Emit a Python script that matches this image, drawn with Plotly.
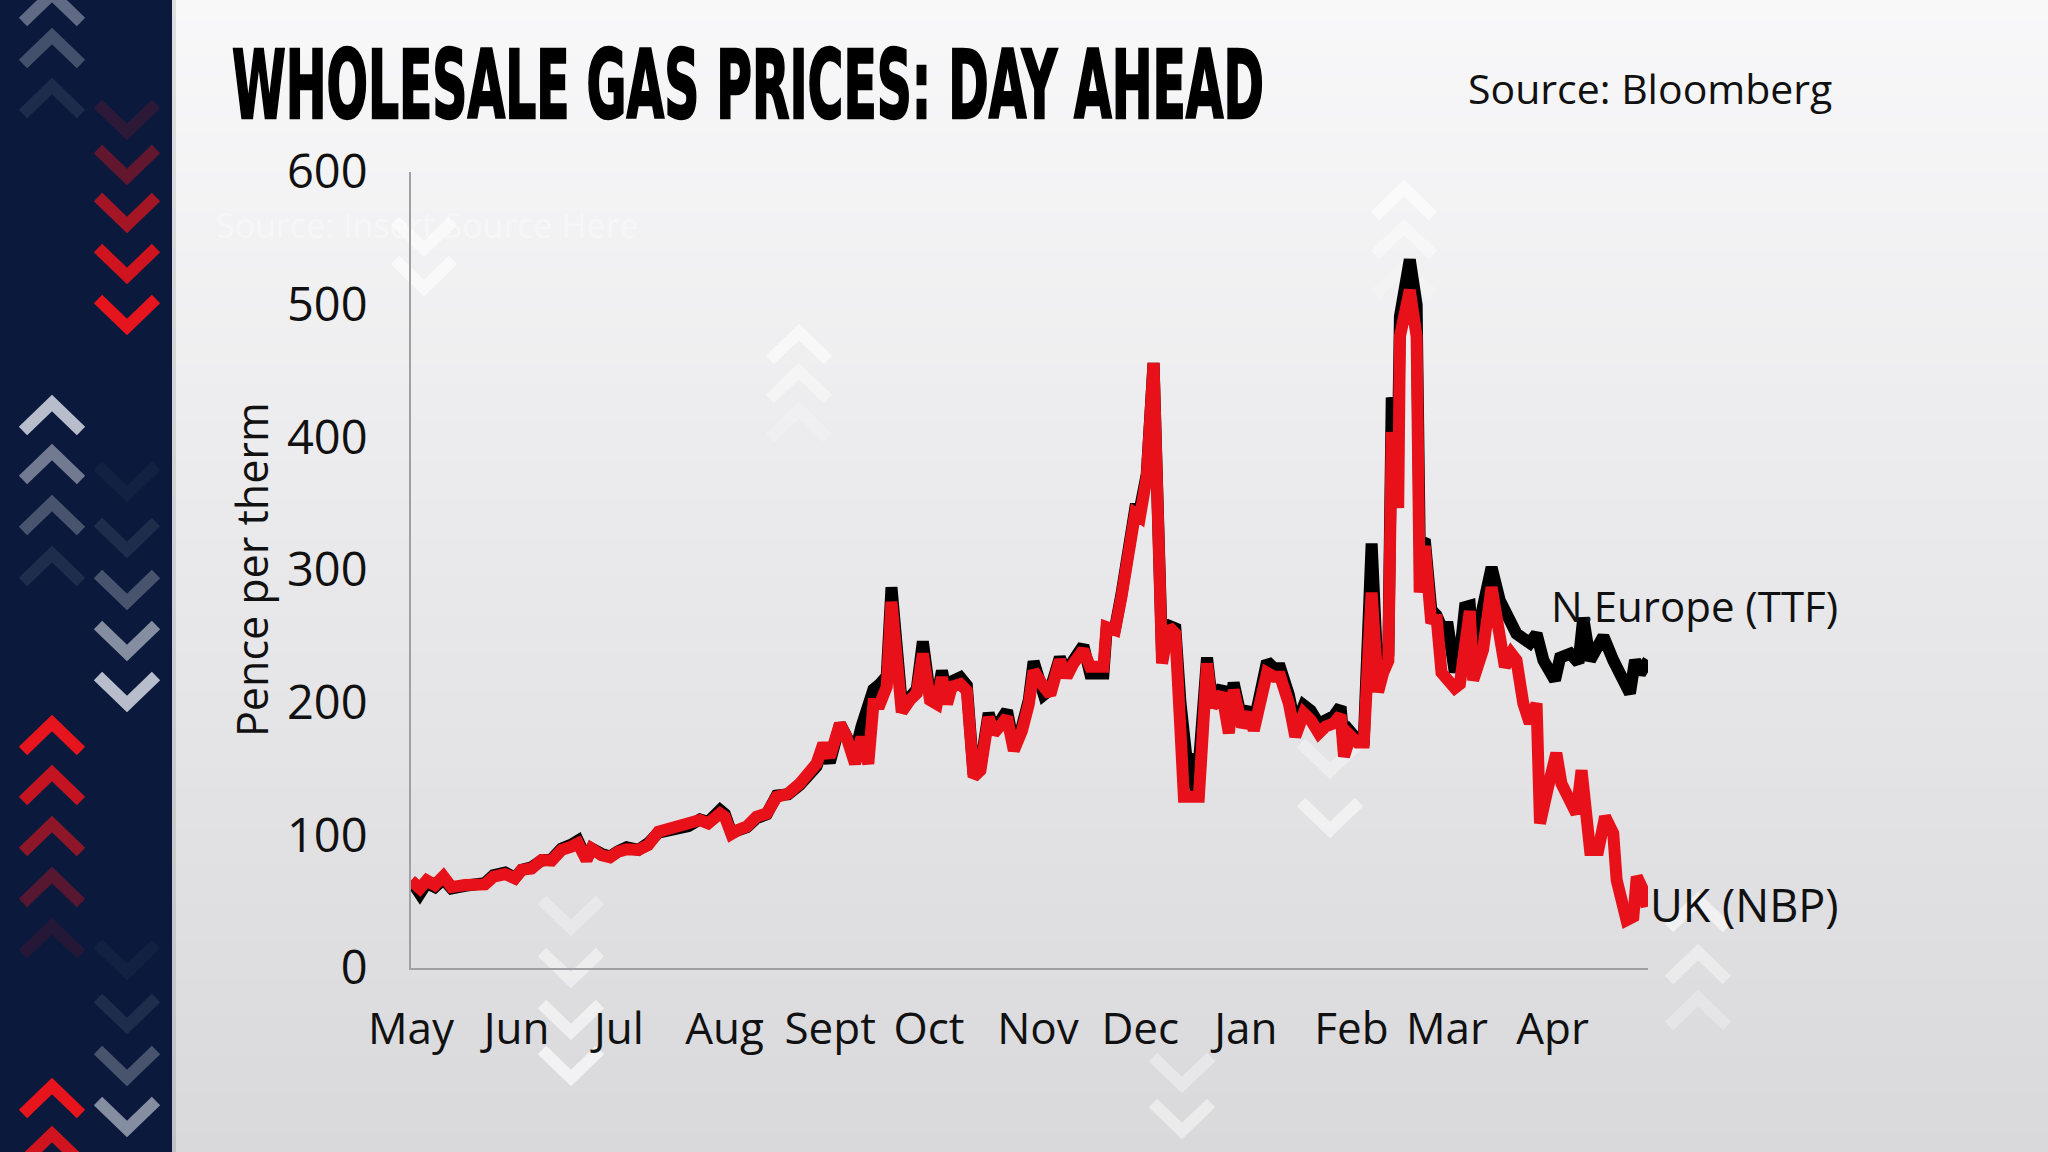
import pandas as pd
import plotly.graph_objects as go

# ---------------- data ----------------
start_date = "2021-05-01"

nbp_day = [0, 2.6, 4.6, 7, 9.5, 11.9, 15.8, 21.7, 24.2, 27.6, 30.5, 32.5, 35.4, 38.3, 41.3, 44.2, 47.1, 49,
           51.5, 53, 55.9, 58.4, 60.8, 63.3, 66.7, 69.6, 72.6, 76.5, 81.4, 84.8, 87.2, 90.7, 92.1, 94, 96,
           98.5, 101.4, 104.4, 107.3, 110.7, 114.1, 117.1, 119, 121, 122.9, 125.9, 127.8, 130.3, 132.2,
           134.2, 135.7, 137.6, 139.6, 141, 142.5, 144, 146.4, 148.4, 150.2, 152.3, 154.3, 155.8, 157.3,
           158.7, 161.2, 163.1, 165.1, 167.1, 169.5, 171, 173.4, 174.9, 176.9, 179.3, 181.3, 182.7, 185.7,
           187.6, 190.4, 192.4, 194.4, 197.3, 199.3, 203.2, 204.1, 206.6, 208.5, 210.5, 212.5, 213.9, 215.9,
           217.9, 220.4, 222.4, 224.3, 225.8, 226.8, 231.2, 233.6, 235.1, 238, 240, 241.4, 243.9, 246.3,
           247.3, 249.3, 251.2, 253.2, 255.1, 257.6, 259.5, 262, 264, 266.4, 268.4, 270.8, 272.8, 273.8,
           275.7, 277.7, 279.6, 281.9, 283.8, 285.3, 286.8, 287.8, 289.7, 290.2, 293.1, 295.1, 296, 297.5,
           299.4, 300.9, 302.4, 304.3, 306.3, 307.8, 309.3, 310.7, 311.7, 314.6, 317.1, 319.3, 321, 322.9,
           324.4, 326.4, 328.3, 330.3, 331.3, 333.7, 336.1, 337.6, 339.6, 342, 343.5, 345, 346, 348.4,
           350.4, 352.8, 353.8, 356.7, 358.7, 359.7, 361.6, 362.6]
nbp_val = [66, 60, 66, 62.5, 69, 61, 62.5, 63, 68.8, 70.8, 67.5, 74, 75, 81.4, 81, 89, 91.5, 94,
           81.4, 90, 85, 83.5, 87.7, 89.5, 89, 92.7, 102.8, 105, 107.8, 111.5, 109, 116.5, 114, 101, 104,
           106.5, 114, 116.5, 129, 131.5, 139, 146.6, 154, 169, 159, 184, 174, 154, 174,
           154, 199, 199, 212, 276, 234.5, 193, 202, 207, 237, 202, 199, 219, 199,
           212, 214, 209, 144, 149, 189, 177, 184, 189, 164, 179, 199, 224, 212,
           206, 232, 219.5, 229.6, 239.6, 227, 227, 257, 254.7, 280, 310, 342.6, 340, 370,
           456, 229.6, 257, 252, 179, 129, 129, 229.6, 197, 207, 177, 209.6, 182, 192,
           179, 202, 222.5, 219.5, 219.5, 199.5, 174.5, 192, 187, 177, 182, 184.5, 190.7, 159.5,
           175, 170, 170, 283, 208, 222.7, 231.5, 404, 346.7, 476, 511, 476, 283, 318,
           260, 266, 222.7, 217, 211, 214, 246, 269, 217, 240, 287, 249, 227, 237,
           232, 199.5, 184.5, 199.5, 109, 136.6, 162, 139, 129, 116.5, 149, 116.5, 89, 89,
           114, 101.5, 66.3, 36, 38.7, 68.8, 58.7, 46]

ttf_day = [0, 2.6, 4.6, 7, 9.5, 11.9, 15.8, 21.7, 24.2, 27.6, 30.5, 32.5, 35.4, 38.3, 41.3, 44.2, 47.1, 49,
           51.5, 53, 55.9, 58.4, 60.8, 63.3, 66.7, 69.6, 72.6, 76.5, 81.4, 84.8, 87.2, 90.7, 92.1, 94, 96,
           98.5, 101.4, 104.4, 107.3, 110.7, 114.1, 117.1, 119, 121, 122.9, 125.9, 127.8, 130.3, 132.2,
           134.2, 135.7, 137.6, 139.6, 141, 142.5, 144, 146.4, 148.4, 150.2, 152.3, 154.3, 155.8, 157.3,
           158.7, 161.2, 163.1, 165.1, 167.1, 169.5, 171, 173.4, 174.9, 176.9, 179.3, 181.3, 182.7, 185.7,
           187.6, 190.4, 192.4, 194.4, 197.3, 199.3, 203.2, 204.1, 206.6, 208.5, 210.5, 212.5, 213.9, 215.9,
           217.9, 220.4, 222.4, 224.3, 225.8, 227.5, 228.8, 230.5, 233.6, 235.1, 238, 240, 241.4, 243.9,
           246.3, 247.3, 249.3, 251.2, 253.2, 255.1, 257.6, 259.5, 262, 264, 266.4, 268.4, 270.8, 272.8,
           273.8, 275.7, 277.7, 279.6, 281.9, 283.8, 285.3, 286.8, 287.8, 289.7, 290.2, 293.1, 295.1, 296,
           297.5, 299.4, 300.9, 302.4, 304.3, 306.3, 307.8, 309.3, 310.7, 311.7, 313.7, 317.1, 319.5, 322.4,
           324.4, 328.3, 330.3, 332.3, 335.7, 337.2, 340.2, 342.6, 344, 346, 349.9, 352.8, 357.7, 359.2,
           360.7, 363.1]
ttf_val = [66, 56, 64, 61, 67, 60, 62, 64, 70, 72, 68, 74, 76, 81, 82, 90, 93, 96,
           82, 90, 86, 84, 88, 91, 89, 94, 102, 104, 107, 112, 110, 119, 116, 102, 104,
           106, 113, 116, 130, 131, 138, 145, 152, 166, 155, 184, 176, 162, 182,
           196, 210, 214, 220, 287, 240, 200, 204, 210, 246, 206, 203, 224, 206,
           216, 219, 213, 146, 152, 192, 180, 188, 194, 168, 182, 202, 231, 206,
           210, 234, 222, 232, 243, 222, 222, 254, 256, 282, 312, 346, 346, 372,
           456, 236, 258, 256, 200, 160, 158, 130, 234, 200, 212, 182, 215, 186,
           196, 184, 208, 231, 226, 226, 206, 182, 198, 194, 184, 188, 190, 197,
           166, 178, 172, 172, 320, 214, 226, 236, 430, 407, 491, 534, 500, 320,
           323, 270, 266, 257, 257, 223, 236, 272, 273, 237, 262, 302, 277, 262,
           252, 245, 252, 232, 217, 234, 237, 230, 264, 232, 250, 232, 207, 232,
           222, 232]

month_ticks = ["2021-05-01", "2021-06-01", "2021-07-01", "2021-08-01", "2021-09-01", "2021-09-30",
               "2021-11-01", "2021-12-01", "2022-01-01", "2022-02-01", "2022-03-01", "2022-04-01"]
month_labels = ["May", "Jun", "Jul", "Aug", "Sept", "Oct", "Nov", "Dec", "Jan", "Feb", "Mar", "Apr"]
y_ticks = [0, 100, 200, 300, 400, 500, 600]

base = pd.Timestamp(start_date)
nbp_x = base + pd.to_timedelta(nbp_day, unit="D")
ttf_x = base + pd.to_timedelta(ttf_day, unit="D")

# ---------------- geometry helpers ----------------
W, H = 2048, 1152
L, R, T, B = 411, 1648, 172, 968


def px(x):
    return (x - L) / (R - L)


def py(y):
    return (B - y) / (B - T)


shapes = []

# background gradient
top_c = (248, 248, 249)
bot_c = (217, 217, 220)
nb = 60
for i in range(nb):
    f = i / (nb - 1)
    c = tuple(int(round(top_c[k] + (bot_c[k] - top_c[k]) * f)) for k in range(3))
    y0 = H * i / nb
    y1 = H * (i + 1) / nb + 1
    shapes.append(dict(type="rect", xref="paper", yref="paper", x0=px(0), x1=px(W),
                       y0=py(y1), y1=py(y0), line=dict(width=0),
                       fillcolor="rgb(%d,%d,%d)" % c, layer="below"))

# navy side panel
shapes.append(dict(type="rect", xref="paper", yref="paper", x0=px(0), x1=px(172),
                   y0=py(H), y1=py(0), line=dict(width=0), fillcolor="#0b1a3c", layer="below"))
shapes.append(dict(type="rect", xref="paper", yref="paper", x0=px(172), x1=px(176),
                   y0=py(H), y1=py(0), line=dict(width=0), fillcolor="rgba(0,0,0,0.10)", layer="below"))


def chevron(cx, cy, up, color, width=12, hw=29, hh=14):
    if up:
        pts = [(cx - hw, cy + hh), (cx, cy - hh), (cx + hw, cy + hh)]
    else:
        pts = [(cx - hw, cy - hh), (cx, cy + hh), (cx + hw, cy - hh)]
    path = "M %f %f L %f %f L %f %f" % (px(pts[0][0]), py(pts[0][1]), px(pts[1][0]), py(pts[1][1]),
                                         px(pts[2][0]), py(pts[2][1]))
    shapes.append(dict(type="path", xref="paper", yref="paper", path=path,
                       line=dict(color=color, width=width), layer="below"))


# side-panel chevrons
for cy, a in [(8, 0.45), (50, 0.3), (100, 0.1)]:
    chevron(52, cy, True, "rgba(200,205,220,%f)" % a)
for cy, a in [(118, 0.15), (163, 0.4), (211, 0.7), (262, 0.9), (313, 1.0)]:
    chevron(127, cy, False, "rgba(230,20,28,%f)" % a)
for cy, a in [(417, 0.85), (466, 0.5), (517, 0.3), (568, 0.1)]:
    chevron(52, cy, True, "rgba(215,218,228,%f)" % a)
for cy, a in [(480, 0.04), (536, 0.1), (588, 0.3), (639, 0.6), (690, 0.85)]:
    chevron(127, cy, False, "rgba(215,218,228,%f)" % a)
for cy, a in [(737, 1.0), (787, 0.85), (838, 0.6), (889, 0.35), (940, 0.12)]:
    chevron(52, cy, True, "rgba(230,20,28,%f)" % a)
for cy, a in [(958, 0.04), (1012, 0.1), (1064, 0.3), (1115, 0.6)]:
    chevron(127, cy, False, "rgba(215,218,228,%f)" % a)
for cy, a in [(1100, 1.0), (1148, 0.9)]:
    chevron(52, cy, True, "rgba(230,20,28,%f)" % a)

# faint watermark chevrons in the chart area
wm = "rgba(255,255,255,%f)"
for cy, a in [(346, 0.55), (385, 0.4), (424, 0.2)]:
    chevron(799, cy, True, wm % a, width=12)
for cy, a in [(202, 0.6), (241, 0.4), (280, 0.2)]:
    chevron(1404, cy, True, wm % a, width=12)
for cy, a in [(235, 0.5), (274, 0.6)]:
    chevron(424, cy, False, wm % a, width=12)
for cy, a in [(914, 0.3), (966, 0.45), (1018, 0.55), (1064, 0.65)]:
    chevron(571, cy, False, wm % a, width=12)
for cy, a in [(757, 0.35), (816, 0.5)]:
    chevron(1330, cy, False, wm % a, width=12)
for cy, a in [(914, 0.55), (966, 0.4), (1012, 0.25)]:
    chevron(1698, cy, True, wm % a, width=12)
for cy, a in [(1071, 0.35), (1117, 0.45)]:
    chevron(1182, cy, False, wm % a, width=12)

# ---------------- figure ----------------
fig = go.Figure()
fig.add_trace(go.Scatter(x=ttf_x, y=ttf_val, mode="lines", name="N.Europe (TTF)",
                         line=dict(color="#000000", width=12), hoverinfo="skip"))
fig.add_trace(go.Scatter(x=nbp_x, y=nbp_val, mode="lines", name="UK (NBP)",
                         line=dict(color="#e8111a", width=12), hoverinfo="skip"))

font_main = "Open Sans, Noto Sans, sans-serif"

annotations = [
    dict(text="<b>WHOLESALE GAS PRICES: DAY AHEAD</b>", x=px(230), y=py(86), xanchor="left",
         yanchor="middle", showarrow=False, xref="paper", yref="paper",
         font=dict(family="DejaVu Sans, sans-serif", size=94, color="#000000")),
    dict(text="Source: Bloomberg", x=px(1834), y=py(88), xanchor="right", yanchor="middle",
         showarrow=False, xref="paper", yref="paper",
         font=dict(family=font_main, size=41, color="#111111")),
    dict(text="Source: Insert Source Here", x=px(214), y=py(225), xanchor="left", yanchor="middle",
         showarrow=False, xref="paper", yref="paper",
         font=dict(family=font_main, size=34, color="rgba(255,255,255,0.35)")),
    dict(text="Pence per therm", x=px(251), y=py(570), xanchor="center", yanchor="middle",
         textangle=-90, showarrow=False, xref="paper", yref="paper",
         font=dict(family=font_main, size=43, color="#111111")),
    dict(text="N.Europe (TTF)", x=px(1549), y=py(605), xanchor="left", yanchor="middle",
         showarrow=False, xref="paper", yref="paper",
         font=dict(family=font_main, size=42, color="#111111")),
    dict(text="UK (NBP)", x=px(1648), y=py(904), xanchor="left", yanchor="middle",
         showarrow=False, xref="paper", yref="paper",
         font=dict(family=font_main, size=45, color="#111111")),
]

fig.update_layout(
    width=W, height=H, autosize=False,
    margin=dict(l=L, r=W - R, t=T, b=H - B, pad=0),
    paper_bgcolor="#ececee",
    plot_bgcolor="rgba(0,0,0,0)",
    showlegend=False,
    shapes=shapes,
    annotations=annotations,
    xaxis=dict(
        type="date",
        range=[start_date, "2022-04-29"],
        tickvals=month_ticks, ticktext=month_labels,
        showgrid=False, zeroline=False,
        showline=True, linecolor="#a0a0a4", linewidth=2,
        ticks="", ticklabelstandoff=21,
        tickfont=dict(family=font_main, size=44, color="#111111"),
    ),
    yaxis=dict(
        range=[0, 600],
        tickvals=y_ticks,
        showgrid=False, zeroline=False,
        showline=True, linecolor="#a0a0a4", linewidth=2,
        ticks="", ticklabelstandoff=32,
        tickfont=dict(family=font_main, size=47, color="#111111"),
    ),
)

# condense the headline horizontally so it matches the narrow display face of the original
post = """
document.body.style.margin='0';
document.body.style.overflow='hidden';
var gd = document.getElementById('{plot_id}');
gd.querySelectorAll('text.annotation-text').forEach(function(el){
  if (el.textContent.indexOf('WHOLESALE') === 0) {
    var bb = el.getBBox();
    var sx = 1032 / bb.width;
    var x0 = bb.x;
    el.style.stroke = '#000';
    el.style.strokeWidth = '2.5px';
    el.setAttribute('transform', 'translate(' + x0 + ',0) scale(' + sx + ',1) translate(' + (-x0) + ',0)');
  }
});
"""

fig.write_html("out.html", config={"displayModeBar": False}, post_script=post)
